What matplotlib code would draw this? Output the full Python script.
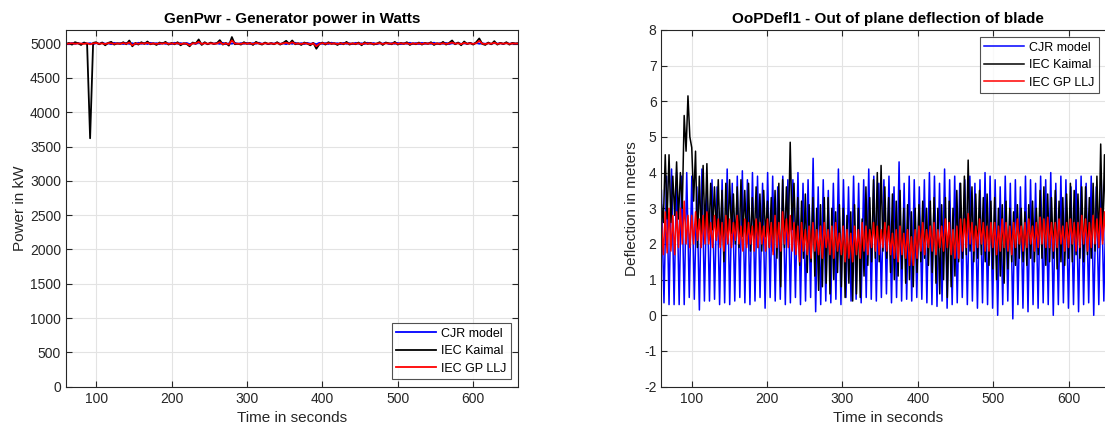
import matplotlib
matplotlib.use("Agg")
import matplotlib.pyplot as plt
import numpy as np

plt.rcParams['font.family'] = ['Liberation Sans', 'DejaVu Sans']
plt.rcParams['axes.unicode_minus'] = False

series_names = ['CJR model', 'IEC Kaimal', 'IEC GP LLJ']
series_colors = ['#0000ff', '#000000', '#ff0000']

# generator power, sampled every 4 s from 60 s to 660 s
pwr_cjr = [
    5005, 4992, 5010, 4996, 5008, 4994, 5012, 4998, 5006, 4990,
    5009, 4995, 5013, 4997, 5004, 4991, 5011, 4999, 5007, 4993,
    5010, 4996, 5005, 4990, 5012, 4997, 5008, 4994, 5011, 4999,
    5006, 4992, 5010, 4996, 5004, 4993, 5012, 4998, 5007, 4995,
    5009, 4991, 5005, 4997, 5013, 4995, 5008, 4993, 5010, 4998,
    5006, 4996, 5011, 4992, 5004, 4999, 5012, 4994, 5007, 4997,
    5010, 4993, 5006, 4998, 5013, 4995, 5009, 4991, 5005, 4999,
    5011, 4996, 5004, 4992, 5008, 4997, 5012, 4995, 5006, 4993,
    5009, 4998, 5005, 4990, 5011, 4996, 5007, 4994, 5013, 4999,
    5005, 4992, 5010, 4997, 5006, 4993, 5011, 4998, 5004, 4995,
    5012, 4996, 5008, 4991, 5005, 4999, 5013, 4994, 5007, 4997,
    5010, 4992, 5006, 4998, 5012, 4995, 5008, 4993, 5011, 4996,
    5005, 4997, 5013, 4994, 5007, 4998, 5010, 4992, 5006, 4999,
    5011, 4995, 5004, 4997, 5009, 4993, 5012, 4998, 5005, 4996,
    5008, 4994, 5011, 4999, 5006, 4995, 5010, 4997, 5004, 4998,
    5002,
]
pwr_kaimal = [
    4990, 5010, 4985, 5020, 5005, 4980, 5015, 4995, 3620, 5010,
    5020, 4990, 5015, 4975, 5010, 5025, 4985, 5005, 4995, 5020,
    4990, 5045, 4960, 5010, 4985, 5020, 4995, 5030, 4990, 5005,
    4980, 5015, 5000, 5025, 4985, 5010, 4990, 5020, 4975, 5005,
    4995, 4960, 5015, 5000, 5060, 4980, 5020, 4990, 5015, 4995,
    5005, 5050, 4985, 5010, 4970, 5095, 4990, 5000, 4985, 5020,
    4995, 5010, 4980, 5025, 5000, 4985, 5015, 4995, 5005, 4990,
    5020, 4985, 5010, 5040, 4995, 5045, 4990, 5005, 4980, 5015,
    5000, 4975, 5010, 4925, 4990, 5015, 4985, 5020, 4995, 5005,
    4980, 5010, 4990, 5025, 4985, 5005, 4990, 5015, 4975, 5020,
    4995, 5010, 4985, 5000, 5020, 4980, 5015, 5005, 4990, 5025,
    4985, 5010, 4995, 5020, 4980, 5005, 4990, 5015, 4985, 5010,
    4995, 5020, 4980, 5005, 4990, 5025, 4985, 5010, 5045, 4990,
    5015, 4975, 5030, 4995, 5010, 4985, 5020, 5075, 4995, 4980,
    5015, 4990, 5035, 4985, 5010, 4995, 5020, 4985, 5010, 5000,
    5005,
]
pwr_gpllj = [
    4995, 5000, 5005, 4998, 5002, 5000, 4996, 5004, 4990, 5003,
    5008, 4998, 5002, 4994, 5006, 5004, 4997, 5001, 4999, 5007,
    4998, 5015, 4975, 5003, 4996, 5005, 5000, 5010, 4997, 5001,
    4995, 5003, 5000, 5008, 4996, 5002, 4998, 5006, 4992, 5001,
    4999, 4975, 5004, 5001, 5025, 4994, 5006, 4998, 5003, 4999,
    5001, 5020, 4992, 5004, 4988, 5045, 5000, 4998, 4996, 5005,
    5000, 5003, 4995, 5008, 5001, 4996, 5004, 4999, 5002, 4997,
    5006, 4995, 5003, 5012, 5000, 5018, 4998, 5001, 4994, 5004,
    5000, 4990, 5003, 4962, 4996, 5006, 4997, 5005, 4999, 5002,
    4994, 5003, 4998, 5006, 4996, 5001, 4997, 5004, 4990, 5005,
    4999, 5002, 4996, 5000, 5006, 4995, 5004, 5001, 4998, 5007,
    4996, 5003, 4999, 5005, 4993, 5002, 4997, 5004, 4995, 5003,
    4999, 5006, 4994, 5001, 4997, 5005, 4996, 5002, 5015, 4998,
    5004, 4992, 5010, 4998, 5003, 4996, 5005, 5040, 4999, 4994,
    5004, 4998, 5012, 4995, 5003, 4999, 5005, 4996, 5002, 5000,
    5001,
]

# out of plane blade deflection
defl_cjr = [
    3.5, 0.35, 3.9, 0.3, 4.1, 0.3, 4.0, 0.3, 3.9, 0.3, 4.0, 0.5,
    3.9, 0.45, 3.6, 0.15, 4.1, 0.4, 3.7, 0.4, 3.8, 0.45, 3.6, 0.3,
    3.8, 0.35, 4.1, 0.3, 3.7, 0.4, 3.9, 0.5, 4.05, 0.35, 3.8, 0.3,
    4.0, 0.4, 3.9, 0.5, 3.7, 0.2, 4.0, 0.5, 3.9, 0.4, 3.6, 0.45,
    3.9, 0.3, 3.8, 0.35, 3.8, 0.5, 4.0, 0.3, 3.7, 0.4, 3.8, 0.5,
    4.4, 0.1, 3.6, 0.3, 3.8, 0.4, 3.5, 0.35, 3.7, 0.45, 4.1, 0.3,
    3.8, 0.5, 3.6, 0.4, 3.9, 0.45, 3.7, 0.35, 3.8, 0.5, 4.1, 0.45,
    3.9, 0.4, 3.7, 0.5, 3.8, 0.6, 3.9, 0.35, 3.6, 0.5, 4.3, 0.4,
    3.7, 0.45, 3.9, 0.4, 3.8, 0.5, 3.6, 0.45, 3.8, 0.35, 4.0, 0.3,
    3.9, 0.25, 3.7, 0.4, 4.1, 0.2, 3.8, 0.3, 3.9, 0.35, 3.7, 0.5,
    3.8, 0.3, 3.9, 0.4, 3.7, 0.2, 3.8, 0.35, 4.0, 0.3, 3.9, 0.2,
    3.8, 0.0, 3.6, 0.3, 3.9, 0.4, 3.7, -0.1, 3.8, 0.3, 3.6, 0.2,
    3.9, 0.1, 3.8, 0.3, 3.7, 0.2, 3.9, 0.35, 3.8, 0.3, 4.0, 0.0,
    3.7, 0.3, 3.9, 0.35, 3.8, 0.2, 3.6, 0.3, 3.8, 0.1, 3.9, 0.3,
    3.7, 0.35, 3.9, 0.0, 3.6, 0.3, 3.8, 0.4, 3.7, 0.3, 3.9, 0.35,
]
defl_kaimal = [
    3.1, 2.6, 4.5, 2.7, 4.5, 2.6, 3.9, 2.8, 4.3, 2.7, 4.0, 3.0,
    5.6, 4.6, 6.15, 5.0, 4.7, 3.2, 4.6, 1.9, 3.9, 2.2, 4.2, 2.3,
    4.25, 2.1, 3.7, 2.4, 3.6, 2.2, 3.8, 2.0, 3.5, 1.5, 3.7, 2.1,
    3.8, 2.3, 3.4, 2.0, 3.6, 1.9, 3.8, 2.2, 3.5, 2.0, 3.7, 1.8,
    3.3, 2.1, 3.6, 1.9, 3.4, 1.8, 3.5, 2.2, 3.2, 1.9, 3.3, 1.8,
    3.5, 1.6, 3.7, 0.8, 3.8, 1.9, 3.6, 2.2, 4.85, 2.4, 3.7, 1.9,
    3.3, 1.4, 3.2, 1.6, 3.4, 1.2, 3.1, 1.5, 3.3, 1.1, 3.0, 0.7,
    3.1, 0.8, 3.3, 0.9, 3.3, 0.6, 3.0, 1.0, 2.9, 1.2, 3.1, 0.8,
    3.0, 0.5, 2.8, 0.9, 2.9, 0.4, 3.1, 0.6, 3.0, 0.5, 2.7, 1.1,
    3.6, 1.4, 3.3, 1.5, 3.8, 1.6, 4.0, 1.5, 4.2, 1.8, 3.6, 1.6,
    3.3, 1.2, 3.4, 1.0, 3.2, 1.1, 3.5, 1.3, 3.0, 0.9, 3.1, 1.0,
    2.9, 0.8, 3.0, 1.2, 3.1, 1.5, 3.2, 1.6, 3.0, 1.4, 3.2, 1.2,
    3.3, 0.9, 3.0, 0.6, 3.1, 1.0, 3.3, 0.5, 3.2, 0.8, 3.0, 1.1,
    3.5, 1.5, 3.7, 1.6, 3.9, 1.7, 4.35, 1.8, 3.6, 1.5, 3.4, 1.6,
    3.5, 1.7, 3.3, 1.5, 3.4, 1.4, 3.2, 1.3, 3.3, 1.0, 3.0, 1.1,
    3.1, 0.9, 3.2, 1.3, 3.0, 1.5, 2.9, 1.4, 3.1, 1.6, 3.0, 1.5,
    2.9, 1.4, 3.1, 1.6, 3.2, 1.5, 3.0, 1.7, 3.5, 1.6, 3.6, 1.4,
    3.4, 1.5, 3.3, 1.6, 3.5, 1.3, 3.2, 1.5, 3.3, 1.4, 3.4, 1.6,
    3.7, 1.5, 3.5, 1.7, 3.4, 1.6, 3.6, 1.5, 3.6, 1.7, 3.3, 1.6,
    3.7, 1.8, 3.9, 1.9, 4.8, 2.1, 4.5, 2.0, 3.8, 2.2, 3.5, 2.4,
]
defl_gpllj = [
    2.6, 1.7, 2.9, 1.75, 3.0, 1.8, 2.8, 1.7, 2.9, 1.9, 3.0, 2.0,
    3.2, 2.0, 2.8, 1.9, 2.8, 2.0, 2.9, 2.1, 2.7, 1.9, 2.8, 2.0,
    2.9, 2.0, 2.6, 1.9, 2.8, 2.1, 2.7, 1.9, 2.6, 1.8, 2.8, 2.0,
    2.7, 1.9, 2.6, 2.1, 2.8, 2.0, 2.5, 1.8, 2.7, 1.9, 2.6, 2.0,
    2.5, 1.8, 2.7, 1.9, 2.6, 2.0, 2.5, 1.8, 2.7, 1.9, 2.6, 1.7,
    2.8, 1.9, 2.6, 1.8, 2.9, 2.0, 2.7, 1.9, 2.8, 1.8, 2.6, 1.7,
    2.5, 1.5, 2.6, 1.8, 2.4, 1.7, 2.5, 1.6, 2.6, 1.8, 2.4, 1.7,
    2.5, 1.6, 2.6, 1.9, 2.4, 1.7, 2.5, 1.6, 2.6, 1.8, 2.3, 1.7,
    2.5, 1.5, 2.4, 1.6, 2.3, 1.5, 2.5, 1.7, 2.4, 1.6, 2.6, 1.8,
    2.5, 1.7, 2.4, 1.9, 2.6, 1.8, 2.5, 1.7, 2.4, 1.9, 2.6, 1.8,
    2.5, 1.7, 2.3, 1.6, 2.4, 1.5, 2.5, 1.7, 2.3, 1.6, 2.4, 1.4,
    2.2, 1.4, 2.4, 1.6, 2.5, 1.8, 2.6, 1.7, 2.4, 1.9, 2.5, 1.8,
    2.6, 1.7, 2.4, 1.9, 2.5, 1.8, 2.7, 1.9, 2.6, 1.7, 2.4, 1.6,
    2.5, 1.6, 2.7, 1.8, 2.7, 1.9, 2.85, 2.0, 2.6, 1.8, 2.5, 1.9,
    2.7, 2.0, 2.6, 1.8, 2.5, 1.8, 2.6, 1.9, 2.6, 1.7, 2.5, 1.8,
    2.7, 1.9, 2.6, 1.8, 2.5, 1.7, 2.6, 1.9, 2.7, 2.0, 2.5, 1.8,
    2.6, 1.9, 2.7, 2.0, 2.5, 1.8, 2.6, 1.9, 2.75, 2.0, 2.7, 1.9,
    2.75, 1.9, 2.6, 1.8, 2.6, 1.9, 2.7, 2.0, 2.5, 1.8, 2.6, 1.9,
    2.7, 2.0, 2.6, 1.8, 2.6, 1.9, 2.8, 2.0, 2.7, 1.8, 2.6, 1.9,
    2.8, 2.0, 2.7, 1.9, 3.0, 2.0, 2.9, 1.9, 2.8, 2.1, 2.9, 2.0,
]

t_start, t_end = 60, 660


def time_for(values):
    return np.linspace(t_start, t_end, len(values))


fig = plt.figure(figsize=(11.05, 4.32), dpi=100)
ax1 = fig.add_axes([0.0597, 0.1049, 0.4095, 0.826])
ax2 = fig.add_axes([0.5986, 0.1049, 0.4095, 0.826])

axis_grey = '#262626'


def style_axes(ax):
    ax.grid(True, color='#e3e3e3', linewidth=0.8)
    ax.set_axisbelow(True)
    ax.tick_params(direction='in', top=True, right=True, length=4,
                   width=0.8, colors=axis_grey, labelsize=10)
    for s in ax.spines.values():
        s.set_color(axis_grey)
        s.set_linewidth(0.8)
    ax.set_xticks([100, 200, 300, 400, 500, 600])
    ax.set_xlim(t_start, t_end)
    ax.set_xlabel('Time in seconds', fontsize=11, color=axis_grey)


def add_legend(ax, **kw):
    leg = ax.legend(fontsize=9, frameon=True, fancybox=False, handlelength=3.2,
                    borderpad=0.35, labelspacing=0.45, handletextpad=0.4,
                    **kw)
    leg.get_frame().set_edgecolor(axis_grey)
    leg.get_frame().set_linewidth(0.8)
    return leg


pwr = [pwr_cjr, pwr_kaimal, pwr_gpllj]
for vals, name, col in zip(pwr, series_names, series_colors):
    ax1.plot(time_for(vals), vals, color=col, lw=1.3, label=name)
style_axes(ax1)
ax1.set_ylim(0, 5200)
ax1.set_yticks(np.arange(0, 5001, 500))
ax1.set_ylabel('Power in kW', fontsize=11, color=axis_grey, labelpad=2)
ax1.set_title('GenPwr - Generator power in Watts', fontsize=11,
              fontweight='bold', pad=5)
add_legend(ax1, loc='lower right', borderaxespad=0.6)

defl = [defl_cjr, defl_kaimal, defl_gpllj]
for vals, name, col in zip(defl, series_names, series_colors):
    ax2.plot(time_for(vals), vals, color=col, lw=1.1, label=name)
style_axes(ax2)
ax2.set_ylim(-2, 8)
ax2.set_yticks(np.arange(-2, 9, 1))
ax2.set_ylabel('Deflection in meters', fontsize=11, color=axis_grey, labelpad=4)
ax2.set_title('OoPDefl1 - Out of plane deflection of blade', fontsize=11,
              fontweight='bold', pad=5)
add_legend(ax2, loc='upper right', bbox_to_anchor=(0.975, 0.99),
           borderaxespad=0.3)

fig.savefig('out.png', dpi=100)
